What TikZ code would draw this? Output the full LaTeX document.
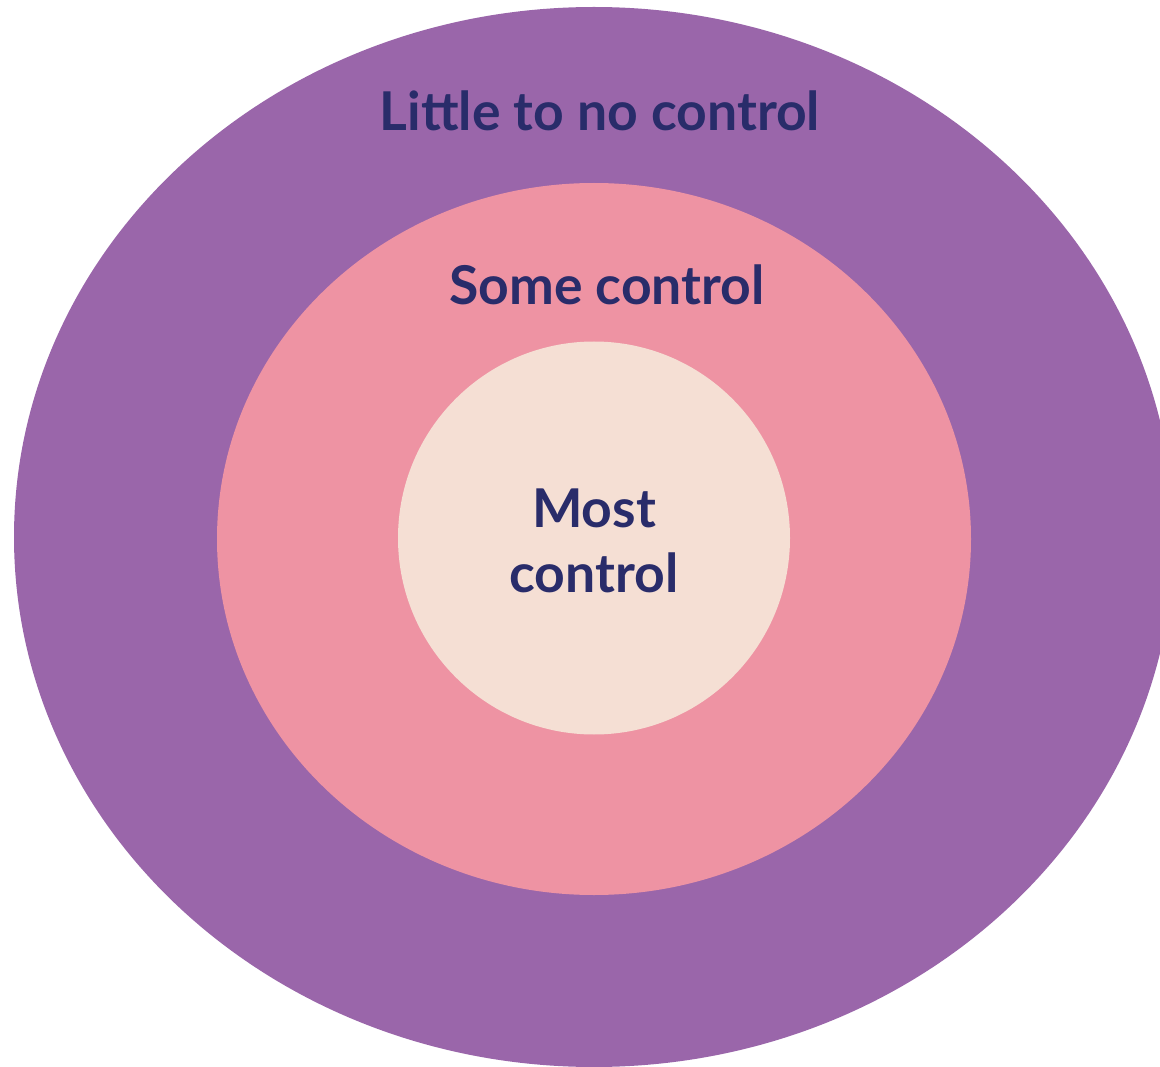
\documentclass[tikz,border=0pt]{standalone}
\usepackage{fontspec}
\setmainfont{Lato}
\usetikzlibrary{shapes,positioning}

\definecolor{ringpurple}{HTML}{9A66AA}
\definecolor{ringpink}{HTML}{EE93A3}
\definecolor{ringpeach}{HTML}{F5DFD4}
\definecolor{labelnavy}{HTML}{292C6A}

\begin{document}
\begin{tikzpicture}[x=1pt, y=-1pt]

% Define styles
\tikzstyle{ring} = [ellipse, inner sep=0pt, draw=none]
\tikzstyle{label} = [inner sep=0pt, anchor=base, text=labelnavy, font=\fontsize{53.5}{65}\selectfont\bfseries, align=center]

\useasboundingbox (0,0) rectangle (1160,1067);
\clip (0,0) rectangle (1160,1067);

% Circles of control
\node (outer) [ring, fill=ringpurple, minimum width=1160pt, minimum height=1060pt] at (594,537) {};
\node (middle) [ring, fill=ringpink, minimum width=754pt, minimum height=712pt] at (594,539) {};
\node (inner) [ring, fill=ringpeach, minimum width=392pt, minimum height=393pt] at (594,538) {};

% Labels
\node (little) [label] at (600,131) {Little to no control};
\node (some) [label] at (607,305) {Some control};
\node (most) [label] at (594,592) {Most\\control};

\end{tikzpicture}
\end{document}
